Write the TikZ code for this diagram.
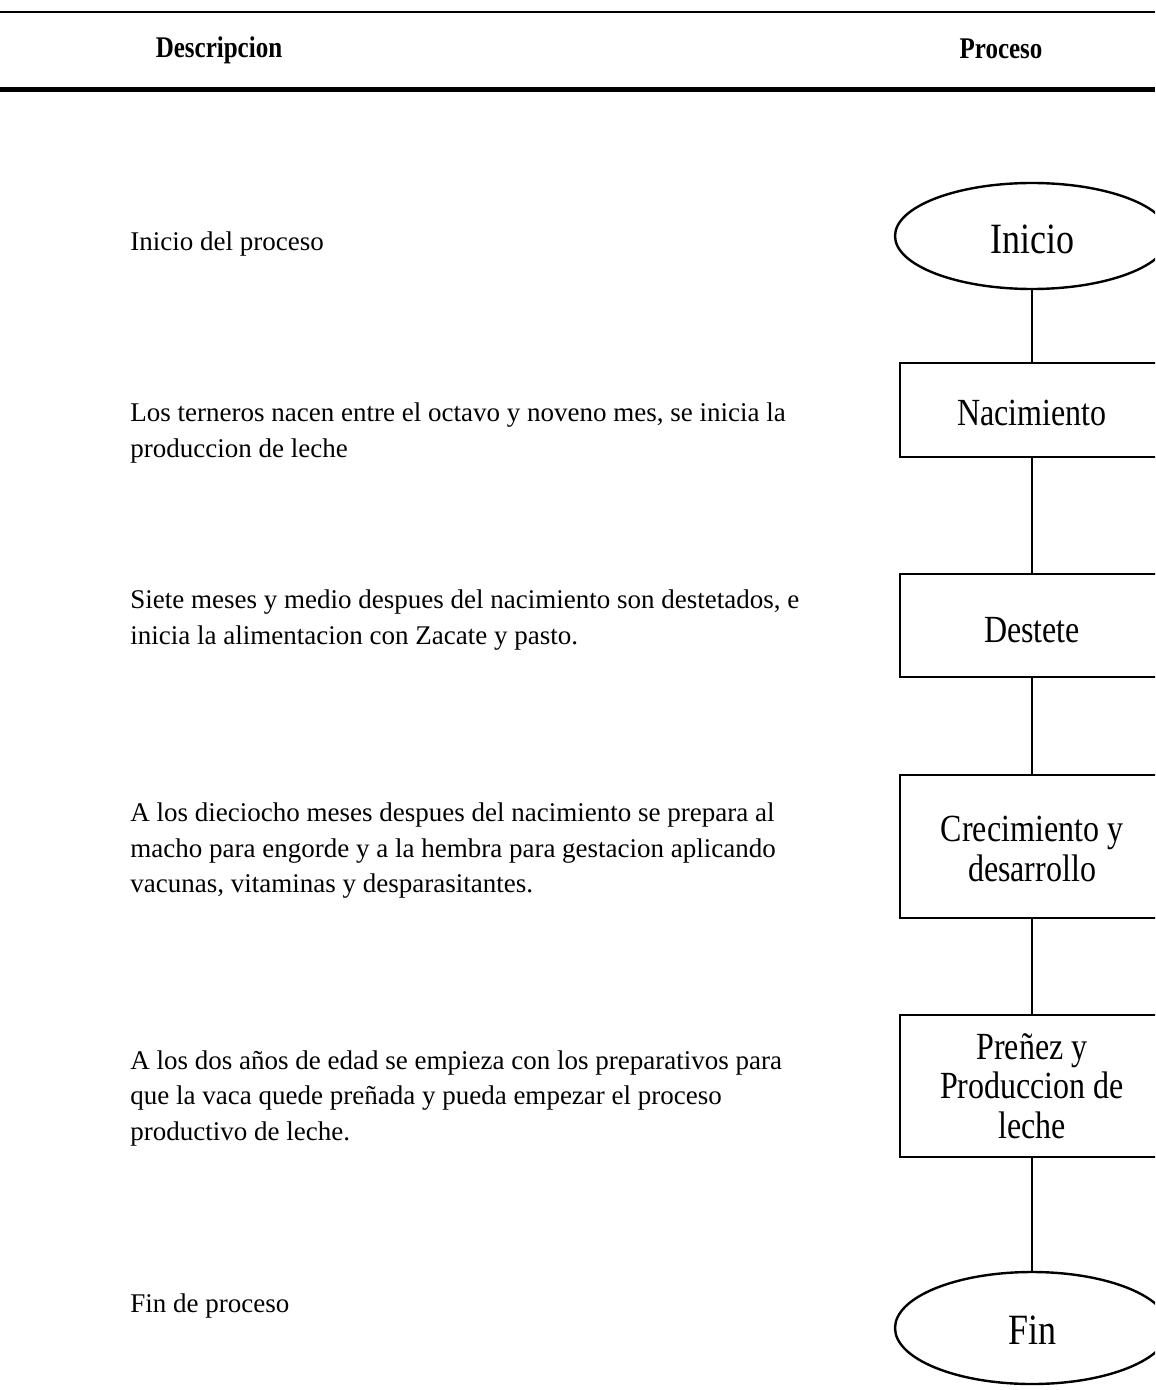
\documentclass[tikz,border=0pt]{standalone}
\usepackage{fontspec}
\setmainfont{Liberation Serif}
\usepackage{graphicx}
\usetikzlibrary{shapes.geometric}
\newcommand{\vst}[2][2pt]{\raisebox{-#1}[\height][\depth]{\scalebox{1}[1.2]{#2}}}
\begin{document}
\begin{tikzpicture}[x=0.5pt,y=-0.5pt,
  desc/.style={anchor=west,inner sep=0pt,align=left,font=\fontsize{13.5}{17.75}\selectfont},
  hdr/.style={inner sep=0pt,font=\fontsize{12.5}{15}\selectfont\bfseries},
  procbox/.style={draw,rectangle,line width=1.3pt,minimum width=132pt,inner sep=0pt,font=\fontsize{16}{16.5}\selectfont},
  term/.style={draw,ellipse,line width=1.2pt,minimum width=137pt,inner sep=0pt,font=\fontsize{18}{20}\selectfont},
  conn/.style={line width=0.75pt},
  rulethin/.style={line width=1pt},
  rulethick/.style={line width=2.5pt}]
\useasboundingbox (0,0) rectangle (1155,1390);
\clip (0,0) rectangle (1155,1390);

% header
\coordinate (tl) at (0,12);
\coordinate (tr) at (1155,12);
\coordinate (bl) at (0,90);
\coordinate (br) at (1155,90);
\draw[rulethin] (tl) -- (tr);
\draw[rulethick] (bl) -- (br);
\node[hdr] (hdesc) at (219,50) {\vst[0pt]{Descripcion}};
\node[hdr] (hproc) at (1001,49) {\vst[0pt]{Proceso}};

% descriptions
\node[desc] (d1) at (130,244) {Inicio del proceso};
\node[desc] (d2) at (130,433) {Los terneros nacen entre el octavo y noveno mes, se inicia la\\produccion de leche};
\node[desc] (d3) at (130,620) {Siete meses y medio despues del nacimiento son destetados, e\\inicia la alimentacion con Zacate y pasto.};
\node[desc] (d4) at (130,851) {A los dieciocho meses despues del nacimiento se prepara al\\macho para engorde y a la hembra para gestacion aplicando\\vacunas, vitaminas y desparasitantes.};
\node[desc] (d5) at (130,1098) {A los dos años de edad se empieza con los preparativos para\\que la vaca quede preñada y pueda empezar el proceso\\productivo de leche.};
\node[desc] (d6) at (130,1306) {Fin de proceso};

% process shapes
\node[term,minimum height=53pt] (ini) at (1032,236) {\vst[1.5pt]{Inicio}};
\node[procbox,minimum height=47pt] (nac) at (1032,410) {\vst[1.5pt]{Nacimiento}};
\node[procbox,minimum height=51.5pt] (des) at (1032,625.5) {\vst[2.5pt]{Destete}};
\node[procbox,minimum height=71.5pt] (cre) at (1032,846.5) {\vst[3.5pt]{\begin{tabular}{@{}c@{}}Crecimiento y\\desarrollo\end{tabular}}};
\node[procbox,minimum height=71pt] (pre) at (1032,1086) {\vst[2.5pt]{\begin{tabular}{@{}c@{}}Preñez y\\Produccion de\\leche\end{tabular}}};
\node[term,minimum height=56pt] (fin) at (1032,1328) {\vst[1pt]{Fin}};

% connectors
\draw[conn] (ini) -- (nac);
\draw[conn] (nac) -- (des);
\draw[conn] (des) -- (cre);
\draw[conn] (cre) -- (pre);
\draw[conn] (pre) -- (fin);
\end{tikzpicture}
\end{document}
